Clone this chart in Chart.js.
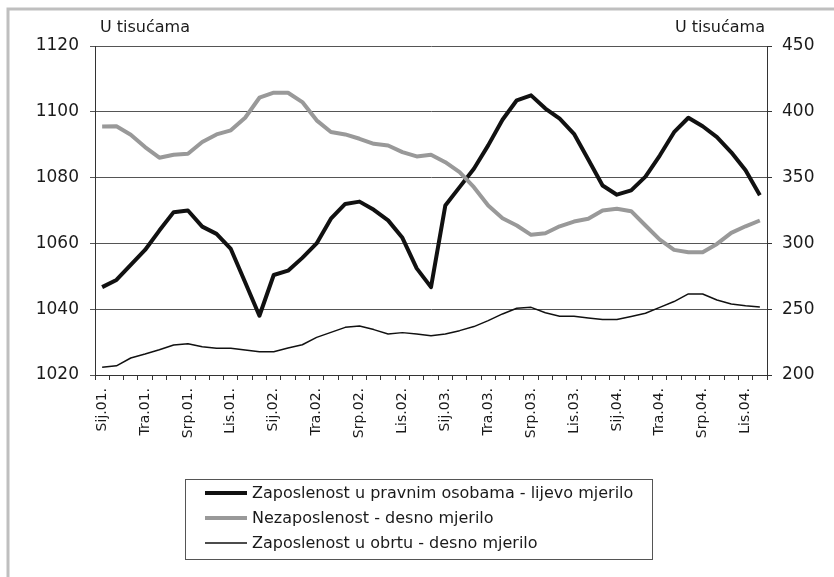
<!DOCTYPE html>
<html>
<head>
<meta charset="utf-8">
<script src="https://cdn.jsdelivr.net/npm/chart.js@4.4.1/dist/chart.umd.min.js"></script>
<style>
  html, body { margin: 0; padding: 0; background: #fff; }
  canvas { display: block; }
</style>
</head>
<body>
<canvas id="chart" width="834" height="577"></canvas>
<script>
// months Sij.01. .. Stu.04. (47 monthly points)
const categories = [
  'Sij.01.', 'Velj.01.', 'Ožu.01.', 'Tra.01.', 'Svi.01.', 'Lip.01.', 'Srp.01.', 'Kol.01.', 'Ruj.01.', 'Lis.01.', 'Stu.01.', 'Pro.01.',
  'Sij.02.', 'Velj.02.', 'Ožu.02.', 'Tra.02.', 'Svi.02.', 'Lip.02.', 'Srp.02.', 'Kol.02.', 'Ruj.02.', 'Lis.02.', 'Stu.02.', 'Pro.02.',
  'Sij.03.', 'Velj.03.', 'Ožu.03.', 'Tra.03.', 'Svi.03.', 'Lip.03.', 'Srp.03.', 'Kol.03.', 'Ruj.03.', 'Lis.03.', 'Stu.03.', 'Pro.03.',
  'Sij.04.', 'Velj.04.', 'Ožu.04.', 'Tra.04.', 'Svi.04.', 'Lip.04.', 'Srp.04.', 'Kol.04.', 'Ruj.04.', 'Lis.04.', 'Stu.04.'
];

// left scale
const pravneOsobe = [
  1046.7, 1048.9, 1053.5, 1058.0, 1063.9, 1069.5, 1070.0, 1065.1, 1062.9, 1058.3, 1048.2, 1038.0,
  1050.4, 1051.7, 1055.6, 1060.0, 1067.5, 1072.0, 1072.7, 1070.2, 1067.0, 1061.7, 1052.4, 1046.7,
  1071.5, 1077.1, 1082.7, 1089.8, 1097.6, 1103.5, 1105.0, 1101.0, 1097.9, 1093.3, 1085.5, 1077.6,
  1074.8, 1076.1, 1080.3, 1086.7, 1093.8, 1098.2, 1095.6, 1092.3, 1087.7, 1082.2, 1074.6
];

// right scale
const nezaposlenost = [
  388.9, 389.0, 382.6, 373.2, 365.1, 367.4, 368.1, 377.0, 382.8, 385.9, 395.5, 410.7,
  414.5, 414.5, 407.4, 393.5, 384.6, 382.8, 379.5, 375.7, 374.4, 369.4, 366.1, 367.4,
  361.7, 354.1, 342.7, 328.8, 319.1, 313.6, 306.5, 307.7, 313.0, 316.6, 318.7, 325.0,
  326.3, 324.5, 313.6, 302.9, 295.1, 293.3, 293.3, 299.6, 308.0, 313.0, 317.4
];

const obrt = [
  205.8, 207.0, 212.9, 215.9, 219.2, 222.8, 223.8, 221.5, 220.3, 220.3, 219.0, 217.7,
  217.7, 220.5, 223.0, 228.6, 232.4, 236.2, 237.3, 234.5, 231.2, 232.2, 231.2, 229.9,
  231.2, 233.7, 236.8, 241.3, 246.4, 250.7, 251.4, 247.3, 244.6, 244.6, 243.4, 242.1,
  242.1, 244.4, 246.9, 251.4, 255.8, 261.6, 261.6, 257.0, 254.0, 252.7, 251.7
];

const leftRange = { min: 1020, max: 1120, step: 20 };
const rightRange = { min: 200, max: 450, step: 50 };
const unitLabel = 'U tisućama';

const FONT = "'DejaVu Sans', Verdana, sans-serif";
const INK = '#1a1a1a';

Chart.defaults.font.family = FONT;
Chart.defaults.color = INK;

// frame, unit captions and the boxed legend
const decorations = {
  id: 'decorations',
  beforeDraw(chart) {
    const ctx = chart.ctx;
    ctx.save();
    ctx.strokeStyle = '#bfbfbf';
    ctx.lineWidth = 3;
    ctx.beginPath();
    ctx.moveTo(8, 577);
    ctx.lineTo(8, 9);
    ctx.lineTo(834, 9);
    ctx.stroke();
    ctx.restore();
  },
  afterDraw(chart) {
    const ctx = chart.ctx;
    const area = chart.chartArea;
    ctx.save();
    ctx.fillStyle = INK;
    ctx.font = '16px ' + FONT;
    ctx.textBaseline = 'middle';
    ctx.textAlign = 'left';
    ctx.fillText(unitLabel, 100, 28);
    ctx.textAlign = 'right';
    ctx.fillText(unitLabel, area.right - 2, 28);

    // legend box
    const box = { x: 185.5, y: 479.5, w: 467, h: 80 };
    ctx.strokeStyle = '#555';
    ctx.lineWidth = 1;
    ctx.strokeRect(box.x, box.y, box.w, box.h);

    const rows = [493, 518, 543];
    ctx.textAlign = 'left';
    chart.data.datasets.forEach((ds, i) => {
      const y = rows[i];
      ctx.strokeStyle = ds.borderColor;
      ctx.lineWidth = ds.borderWidth;
      ctx.beginPath();
      ctx.moveTo(205, y);
      ctx.lineTo(247, y);
      ctx.stroke();
      ctx.fillStyle = INK;
      ctx.fillText(ds.label, 252, y + 1);
    });
    ctx.restore();
  }
};

const plainNumber = value => String(value);

new Chart(document.getElementById('chart'), {
  type: 'line',
  data: {
    labels: categories,
    datasets: [
      {
        label: 'Zaposlenost u pravnim osobama - lijevo mjerilo',
        data: pravneOsobe,
        yAxisID: 'yLeft',
        borderColor: '#111',
        borderWidth: 4,
        order: 2
      },
      {
        label: 'Nezaposlenost - desno mjerilo',
        data: nezaposlenost,
        yAxisID: 'yRight',
        borderColor: '#999',
        borderWidth: 4,
        order: 1
      },
      {
        label: 'Zaposlenost u obrtu - desno mjerilo',
        data: obrt,
        yAxisID: 'yRight',
        borderColor: '#111',
        borderWidth: 1.5,
        order: 0
      }
    ]
  },
  options: {
    responsive: false,
    animation: false,
    layout: { padding: { top: 46, left: 0, right: 0, bottom: 0 } },
    elements: {
      point: { radius: 0 },
      line: { tension: 0, borderJoinStyle: 'round', borderCapStyle: 'butt' }
    },
    plugins: {
      legend: { display: false },
      tooltip: { enabled: false }
    },
    scales: {
      x: {
        offset: true,
        grid: {
          offset: true,
          drawOnChartArea: false,
          drawTicks: true,
          tickLength: 5,
          color: '#333'
        },
        border: { color: '#333', width: 1 },
        ticks: {
          autoSkip: false,
          maxRotation: 90,
          minRotation: 90,
          padding: 8,
          font: { size: 14 },
          callback(value, index) {
            return index % 3 === 0 ? this.getLabelForValue(value) : '';
          }
        },
        afterFit(scale) { scale.height = 202; }
      },
      yLeft: {
        position: 'left',
        min: leftRange.min,
        max: leftRange.max,
        grid: { color: '#555', tickLength: 5 },
        border: { color: '#333', width: 1 },
        ticks: { stepSize: leftRange.step, padding: 11, font: { size: 17 }, callback: plainNumber },
        afterFit(scale) { scale.width = 95; }
      },
      yRight: {
        position: 'right',
        min: rightRange.min,
        max: rightRange.max,
        grid: { drawOnChartArea: false, color: '#333', tickLength: 5 },
        border: { color: '#333', width: 1 },
        ticks: { stepSize: rightRange.step, padding: 10, font: { size: 17 }, callback: plainNumber },
        afterFit(scale) { scale.width = 67; }
      }
    }
  },
  plugins: [decorations]
});
</script>
</body>
</html>
